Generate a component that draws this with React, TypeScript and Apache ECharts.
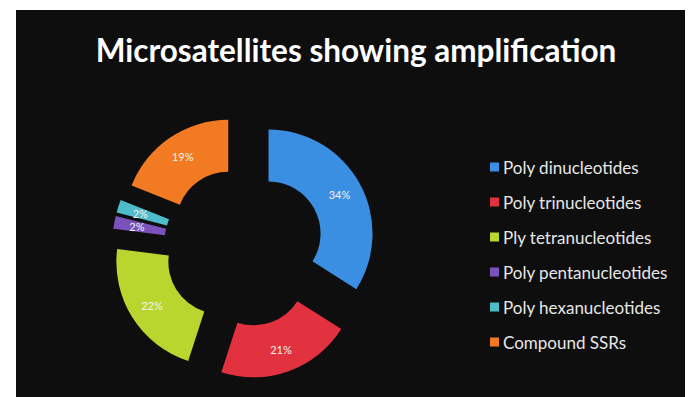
import React, { useEffect, useRef } from "react";
import * as echarts from "echarts";

const categories = [
  "Poly dinucleotides",
  "Poly trinucleotides",
  "Ply tetranucleotides",
  "Poly pentanucleotides",
  "Poly hexanucleotides",
  "Compound SSRs",
];
const percentages = [34, 21, 22, 2, 2, 19];
const colors = ["#3b8fe2", "#e2323f", "#b9d62e", "#7b52bb", "#4fbccb", "#f27a22"];
const titleText = "Microsatellites showing amplification";

export default function App() {
  const ref = useRef<HTMLDivElement>(null);
  useEffect(() => {
    if (!ref.current) return;
    const chart = echarts.init(ref.current, null, { renderer: "svg" });
    chart.setOption({
      animation: false,
      backgroundColor: "#ffffff",
      graphic: [
        {
          type: "rect",
          left: 16,
          top: 10,
          z: -10,
          shape: { width: 669, height: 387 },
          style: { fill: "#0e0e0e" },
        },
      ],
      title: {
        text: titleText,
        left: 351,
        textAlign: "center",
        top: 29,
        textStyle: {
          color: "#ffffff",
          fontFamily: "Lato",
          fontWeight: "bold",
          fontSize: 31.5,
        },
      },
      legend: {
        orient: "vertical",
        left: 485,
        top: 153,
        itemWidth: 9,
        itemHeight: 9,
        itemGap: 17,
        icon: "rect",
        selectedMode: false,
        textStyle: {
          color: "#e6e6e6",
          fontFamily: "Lato",
          fontSize: 17,
          lineHeight: 18,
          padding: [0, 0, 0, -1],
        },
        data: categories,
      },
      series: [
        {
          type: "pie",
          center: [244, 247],
          radius: [52, 104],
          startAngle: 90,
          clockwise: true,
          selectedMode: "multiple",
          selectedOffset: 28,
          avoidLabelOverlap: false,
          labelLayout: { hideOverlap: false },
          emphasis: { disabled: true },
          label: {
            show: true,
            position: "inside",
            formatter: "{d}%",
            color: "#f2f2f2",
            fontFamily: "Lato",
            fontSize: 11,
          },
          labelLine: { show: false },
          itemStyle: { borderWidth: 0 },
          data: categories.map((name, i) => ({
            name,
            value: percentages[i],
            selected: true,
            itemStyle: { color: colors[i] },
          })),
        },
      ],
    });
    return () => chart.dispose();
  }, []);
  return (
    <div
      ref={ref}
      style={{ position: "fixed", left: 0, top: 0, width: 692, height: 397 }}
    />
  );
}
